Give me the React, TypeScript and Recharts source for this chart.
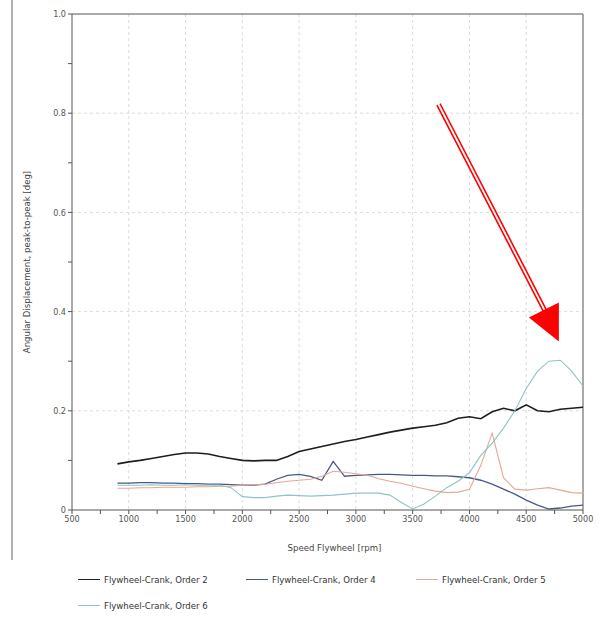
import React from 'react';
import { LineChart, Line, XAxis, YAxis, CartesianGrid, ReferenceLine, ReferenceDot } from 'recharts';

const rpm = [900,1000,1100,1200,1300,1400,1500,1600,1700,1800,1900,2000,2100,2200,2300,2400,2500,2600,2700,2800,2900,3000,3100,3200,3300,3400,3500,3600,3700,3800,3900,4000,4100,4200,4300,4400,4500,4600,4700,4800,4900,5000];

const order2 = [0.093,0.097,0.1,0.104,0.108,0.112,0.115,0.115,0.113,0.108,0.104,0.1,0.099,0.1,0.1,0.108,0.118,0.123,0.128,0.133,0.138,0.142,0.147,0.152,0.157,0.161,0.165,0.168,0.171,0.176,0.185,0.188,0.184,0.198,0.205,0.2,0.212,0.2,0.198,0.203,0.205,0.207];
const order4 = [0.054,0.054,0.055,0.055,0.054,0.054,0.053,0.053,0.052,0.052,0.051,0.05,0.05,0.052,0.062,0.07,0.072,0.068,0.06,0.098,0.068,0.07,0.071,0.072,0.072,0.071,0.07,0.07,0.069,0.069,0.067,0.065,0.06,0.052,0.042,0.032,0.02,0.01,0.002,0.004,0.008,0.01];
const order5 = [0.044,0.044,0.045,0.045,0.046,0.046,0.046,0.047,0.047,0.048,0.048,0.05,0.051,0.052,0.055,0.058,0.06,0.062,0.068,0.078,0.076,0.073,0.07,0.063,0.058,0.054,0.048,0.043,0.038,0.035,0.036,0.042,0.09,0.155,0.065,0.042,0.04,0.043,0.045,0.04,0.035,0.034];
const order6 = [0.05,0.05,0.05,0.051,0.05,0.05,0.051,0.05,0.05,0.05,0.045,0.027,0.025,0.025,0.028,0.03,0.029,0.028,0.029,0.03,0.032,0.034,0.034,0.034,0.03,0.015,0.002,0.012,0.028,0.045,0.058,0.075,0.11,0.135,0.165,0.2,0.245,0.28,0.3,0.302,0.28,0.25];

const seriesNames = ['Flywheel-Crank, Order 2','Flywheel-Crank, Order 4','Flywheel-Crank, Order 5','Flywheel-Crank, Order 6'];
const seriesKeys = ['o2','o4','o5','o6'];
const seriesColors = ['#1e1e1e','#4a5886','#e6a794','#8fc3c6'];
const seriesWidths = [1.6,1.3,1.1,1.1];

const yTicks = [0,0.1,0.2,0.3,0.4,0.5,0.6,0.7,0.8,0.9,1.0];
const yLabels: Record<string,string> = { '0':'0','0.2':'0.2','0.4':'0.4','0.6':'0.6','0.8':'0.8','1':'1.0' };
const xTicks = [500,750,1000,1250,1500,1750,2000,2250,2500,2750,3000,3250,3500,3750,4000,4250,4500,4750,5000];

const arrowStart = { x: 3727, y: 0.818 };
const arrowEnd = { x: 4682, y: 0.394 };

const data = rpm.map((r, i) => ({ rpm: r, o2: order2[i], o4: order4[i], o5: order5[i], o6: order6[i] }));

const FONT = '"Liberation Sans Narrow", "DejaVu Sans Condensed", "Liberation Sans", Arial, sans-serif';

const ArrowHead = (props: any) => {
  const { cx, cy } = props;
  if (cx == null || cy == null) return null;
  const pts = `${cx - 18},${cy + 3} ${cx + 12},${cy - 12} ${cx + 12},${cy + 27}`;
  return <polygon points={pts} fill="#ff0000" />;
};

export default function App() {
  return (
    <div style={{ position: 'absolute', left: 0, top: 0, width: 599, height: 628, background: '#fff', fontFamily: FONT }}>
      <div style={{ position: 'absolute', left: 11, top: 0, width: 2, height: 560, background: '#b0b0b0' }} />
      <LineChart width={599} height={628} data={data} margin={{ top: 14, right: 16, left: 0, bottom: 78 }}>
        <CartesianGrid stroke="#dcdcdc" strokeDasharray="3 3" horizontalValues={[0.2,0.4,0.6,0.8]} verticalValues={[1000,1500,2000,2500,3000,3500,4000,4500]} />
        <XAxis
          dataKey="rpm"
          type="number"
          domain={[500, 5000]}
          ticks={xTicks}
          interval={0}
          height={40}
          tickSize={4}
          stroke="#555"
          tick={{ fill: '#555', fontSize: 9, fontFamily: FONT }}
          tickFormatter={(v: number) => (v % 500 === 0 ? String(v) : '')}
          label={{ value: 'Speed Flywheel [rpm]', position: 'center', dy: 18, dx: 7, fill: '#444', fontSize: 9.5, fontFamily: FONT }}
        />
        <YAxis
          type="number"
          domain={[0, 1]}
          ticks={yTicks}
          interval={0}
          width={72}
          tickSize={4}
          stroke="#555"
          tick={{ fill: '#555', fontSize: 9, fontFamily: FONT }}
          tickFormatter={(v: number) => yLabels[String(Math.round(v * 10) / 10)] ?? ''}
          label={{ value: 'Angular Displacement, peak-to-peak [deg]', angle: -90, position: 'center', dx: -9, fill: '#444', fontSize: 9.5, fontFamily: FONT }}
        />
        <ReferenceLine y={1} stroke="#555" />
        <ReferenceLine x={5000} stroke="#555" />
        {seriesKeys.map((k, i) => (
          <Line key={k} dataKey={k} name={seriesNames[i]} stroke={seriesColors[i]} strokeWidth={seriesWidths[i]} dot={false} type="linear" isAnimationActive={false} />
        ))}
        <ReferenceLine segment={[arrowStart, arrowEnd]} stroke="#ff0000" strokeWidth={5} ifOverflow="visible" />
        <ReferenceLine segment={[arrowStart, arrowEnd]} stroke="#ffffff" strokeWidth={1.8} ifOverflow="visible" />
        <ReferenceDot x={arrowEnd.x} y={arrowEnd.y} r={1} ifOverflow="visible" shape={ArrowHead} />
      </LineChart>
      {seriesNames.map((n, i) => {
        const col = i % 3;
        const row = Math.floor(i / 3);
        const left = [78, 246, 416][col];
        const top = [572, 598][row];
        return (
          <div key={n} style={{ position: 'absolute', left, top, height: 14, display: 'flex', alignItems: 'center', fontSize: 9.5, color: '#333', whiteSpace: 'nowrap' }}>
            <span style={{ display: 'inline-block', width: 22, height: 0, borderTop: `1.5px solid ${seriesColors[i]}`, marginRight: 4 }} />
            {n}
          </div>
        );
      })}
    </div>
  );
}
